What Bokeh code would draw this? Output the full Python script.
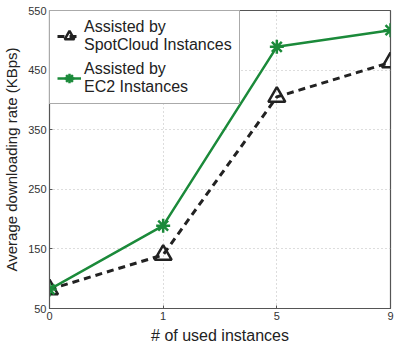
from bokeh.plotting import figure
from bokeh.models import FixedTicker, Legend, LegendItem, Range1d
from bokeh.embed import file_html
from bokeh.resources import INLINE

# Number of used instances (equally spaced categories) and download rates (KBps)
x_labels = ["0", "1", "5", "9"]
spotcloud_rate = [82, 140, 405, 463]
ec2_rate = [82, 189, 489, 517]
y_ticks = [50, 150, 250, 350, 450, 550]

FONT = "Liberation Sans"
GREEN = "#1b8a3a"
DARK = "#222222"

xs = list(range(len(x_labels)))

p = figure(width=398, height=346, output_backend="svg", toolbar_location=None,
           x_range=Range1d(0, len(x_labels) - 1), y_range=Range1d(50, 550),
           min_border_left=46, min_border_right=8, min_border_top=10, min_border_bottom=38)

p.outline_line_color = "#555555"
p.outline_line_width = 1.2

for ax in (p.xaxis[0], p.yaxis[0]):
    ax.axis_line_color = "#555555"
    ax.major_tick_line_color = "#555555"
    ax.major_tick_in = 3
    ax.major_tick_out = 0
    ax.minor_tick_line_color = None
    ax.major_label_text_font = FONT
    ax.major_label_text_font_size = "11px"
    ax.major_label_text_color = "#333333"
    ax.axis_label_text_font = FONT
    ax.axis_label_text_font_style = "normal"
    ax.axis_label_text_color = "#222222"
    ax.major_label_standoff = 3

p.xaxis.ticker = FixedTicker(ticks=xs)
p.xaxis.major_label_overrides = {i: lab for i, lab in enumerate(x_labels)}
p.xaxis.axis_label = "# of used instances"
p.xaxis.axis_label_text_font_size = "16px"
p.xaxis.axis_label_standoff = 4

p.yaxis.ticker = FixedTicker(ticks=y_ticks)
p.yaxis.axis_label = "Average downloading rate (KBps)"
p.yaxis.axis_label_text_font_size = "15px"
p.yaxis.axis_label_standoff = 5

for g in (p.xgrid[0], p.ygrid[0]):
    g.grid_line_color = "#bbbbbb"
    g.grid_line_dash = "1 3"
    g.grid_line_width = 1

# SpotCloud series: dashed black line with open triangles
sc_line = p.line(xs, spotcloud_rate, line_color=DARK, line_width=3, line_dash="7 5")
sc_mark = p.scatter(xs, spotcloud_rate, marker="triangle", size=17, fill_color=None,
                    line_color=DARK, line_width=2.5)

# EC2 series: solid green line with asterisks
ec_line = p.line(xs, ec2_rate, line_color=GREEN, line_width=2.5)
ec_mark = p.scatter(xs, ec2_rate, marker="asterisk", size=14, line_color=GREEN,
                    line_width=2.5)

legend = Legend(items=[
    LegendItem(label="Assisted by\nSpotCloud Instances", renderers=[sc_line, sc_mark]),
    LegendItem(label="Assisted by\nEC2 Instances", renderers=[ec_line, ec_mark]),
], location="top_left")
legend.label_text_font = FONT
legend.label_text_font_size = "16px"
legend.label_text_color = "#222222"
legend.label_text_line_height = 1.1
legend.glyph_width = 24
legend.glyph_height = 36
legend.label_standoff = 3
legend.spacing = 6
legend.padding = 7
legend.margin = 0
legend.border_line_color = "#555555"
legend.border_line_width = 1
legend.background_fill_alpha = 1
p.add_layout(legend)

open("out.html", "w").write(file_html(p, INLINE))
